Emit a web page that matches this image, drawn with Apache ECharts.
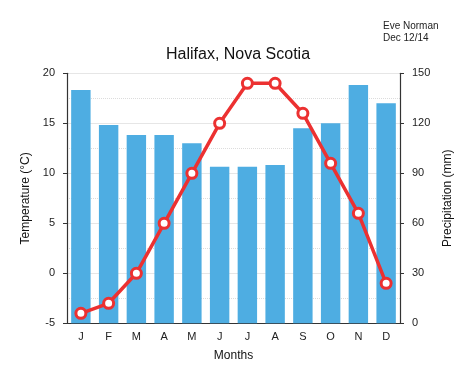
<!DOCTYPE html>
<html><head><meta charset="utf-8">
<script src="https://cdn.jsdelivr.net/npm/echarts@6/dist/echarts.min.js"></script>
<style>html,body{margin:0;padding:0;background:#fff}#c{width:474px;height:385px}</style>
</head><body><div id="c"></div>
<script>
const months = ['J','F','M','A','M','J','J','A','S','O','N','D'];
const temperature = [-4, -3, 0, 5, 10, 15, 19, 19, 16, 11, 6, -1];
const precipitation = [140, 119, 113, 113, 108, 94, 94, 95, 117, 120, 143, 132];
const tempTicks = [-5, 0, 5, 10, 15, 20];
const precipTicks = [0, 30, 60, 90, 120, 150];

const font = 'Liberation Sans, Arial, Helvetica, sans-serif';
const chart = echarts.init(document.getElementById('c'), null, {renderer:'canvas'});
chart.setOption({
  animation: false,
  backgroundColor: '#fff',
  textStyle: {fontFamily: font},
  title: [
    {text: 'Halifax, Nova Scotia', left: 233, top: 42, textAlign: 'center',
     textStyle: {fontFamily: font, fontSize: 16, fontWeight: 'normal', color: '#111'}},
    {text: 'Eve Norman\nDec 12/14', left: 378, top: 15,
     textStyle: {fontFamily: font, fontSize: 10, fontWeight: 'normal', color: '#222', lineHeight: 12}}
  ],
  grid: {left: 67, right: 74, top: 73.3, bottom: 61.7, containLabel: false},
  xAxis: {
    type: 'category', data: months,
    name: 'Months', nameLocation: 'middle', nameGap: 26,
    nameTextStyle: {fontFamily: font, fontSize: 12, color: '#111'},
    axisLine: {show: true, onZero: false, lineStyle: {color: '#333', width: 1.2}},
    axisTick: {show: false},
    axisLabel: {fontFamily: font, fontSize: 11, color: '#222', margin: 8},
    splitLine: {show: false}
  },
  yAxis: [
    {
      type: 'value', min: tempTicks[0], max: tempTicks[tempTicks.length-1], interval: 5,
      name: 'Temperature (°C)', nameLocation: 'middle', nameGap: 30, nameRotate: 90,
      nameTextStyle: {fontFamily: font, fontSize: 12, color: '#111'},
      axisLine: {show: true, lineStyle: {color: '#333', width: 1.2}},
      axisTick: {show: true, inside: false, length: 4, lineStyle: {color: '#333'}},
      axisLabel: {fontFamily: font, fontSize: 11, color: '#222', margin: 12},
      splitLine: {show: true, lineStyle: {color: '#e6e6e6', width: 1}},
      minorTick: {show: false, splitNumber: 2},
      minorSplitLine: {show: true, lineStyle: {color: '#dcdcdc', type: 'dotted', width: 1}}
    },
    {
      type: 'value', min: precipTicks[0], max: precipTicks[precipTicks.length-1], interval: 30,
      name: 'Precipitation (mm)', nameLocation: 'middle', nameGap: 32, nameRotate: 90,
      nameTextStyle: {fontFamily: font, fontSize: 12, color: '#111'},
      axisLine: {show: true, lineStyle: {color: '#333', width: 1.2}},
      axisTick: {show: true, inside: false, length: 4, lineStyle: {color: '#333'}},
      axisLabel: {fontFamily: font, fontSize: 11, color: '#222', margin: 12},
      splitLine: {show: false}
    }
  ],
  series: [
    {
      type: 'bar', yAxisIndex: 1, data: precipitation,
      barCategoryGap: '30%',
      itemStyle: {color: '#4eade2'},
      z: 1
    },
    {
      type: 'line', yAxisIndex: 0, data: temperature,
      symbol: 'circle', symbolSize: 10,
      lineStyle: {color: '#ec3131', width: 3.5},
      itemStyle: {color: '#fff', borderColor: '#ec3131', borderWidth: 3},
      z: 3
    }
  ]
});
</script></body></html>
